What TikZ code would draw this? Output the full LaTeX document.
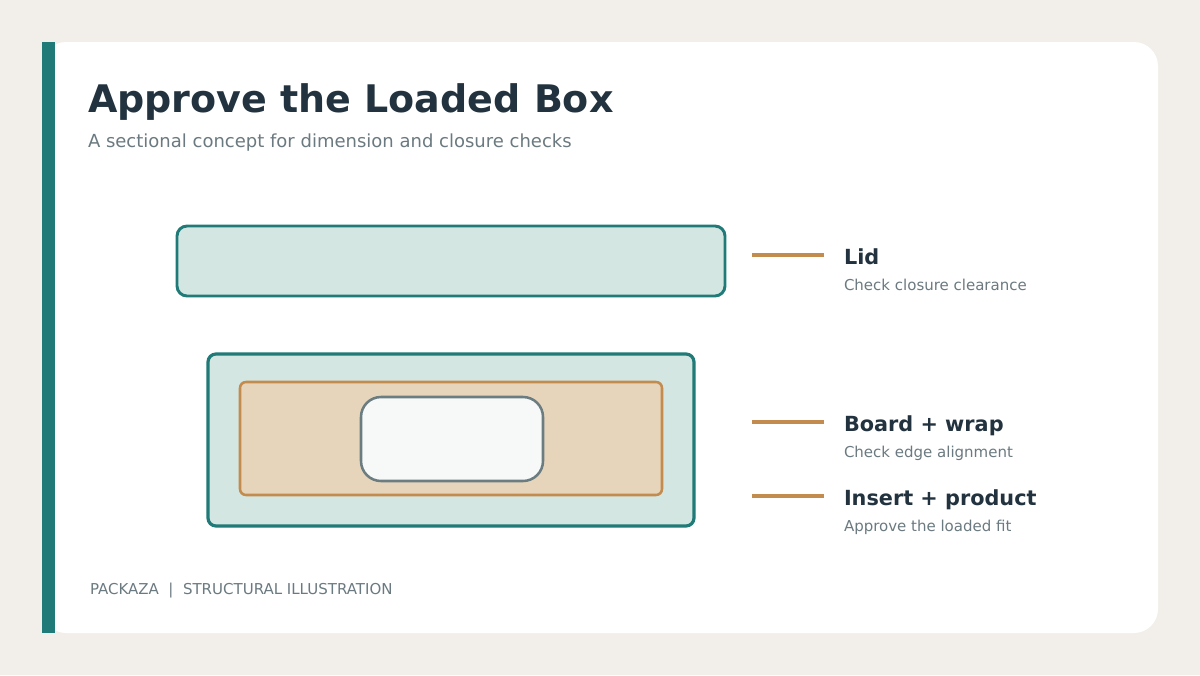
\documentclass[tikz,border=0pt]{standalone}
\usepackage{fontspec}
\setmainfont{DejaVu Sans}
\definecolor{bgc}{HTML}{F2EFEA}
\definecolor{tealc}{HTML}{1F7A78}
\definecolor{lidfill}{HTML}{D4E6E2}
\definecolor{boardfill}{HTML}{E6D5BA}
\definecolor{boardline}{HTML}{C38B4E}
\definecolor{insfill}{HTML}{F6F9F7}
\definecolor{insline}{HTML}{6C7D82}
\definecolor{darktext}{HTML}{22333F}
\definecolor{graytext}{HTML}{6B7A80}
\tikzset{
  txt/.style={anchor=base west, inner sep=0pt, outer sep=0pt},
  labtitle/.style={txt, text=darktext, font=\fontsize{15.6pt}{18pt}\selectfont\bfseries},
  labsub/.style={txt, text=graytext, font=\fontsize{11.25pt}{13pt}\selectfont},
  leader/.style={draw=boardline, line width=2.3pt},
}
\begin{document}
\begin{tikzpicture}[x=0.75pt,y=-0.75pt]
\useasboundingbox (0,0) rectangle (1200,675);
\fill[bgc] (0,0) rectangle (1200,675);
% card
\fill[white, rounded corners=18pt] (42,42) rectangle (1158,633);
\fill[tealc] (42,42) rectangle (55,633);
% title
\node[txt, text=darktext, font=\fontsize{28.5pt}{34pt}\selectfont\bfseries] (title) at (88,112) {Approve the Loaded Box};
\node[txt, text=graytext, font=\fontsize{13.5pt}{16pt}\selectfont] (subtitle) at (88,147) {A sectional concept for dimension and closure checks};
% lid
\draw[draw=tealc, fill=lidfill, line width=2.2pt, rounded corners=7.5pt] (177,226) rectangle (725,296);
% box
\draw[draw=tealc, fill=lidfill, line width=2.4pt, rounded corners=6pt] (208,354) rectangle (694,526);
\draw[draw=boardline, fill=boardfill, line width=1.9pt, rounded corners=4.5pt] (240,382) rectangle (662,495);
\draw[draw=insline, fill=insfill, line width=1.9pt, rounded corners=15pt] (361,397) rectangle (543,481);
% leaders
\coordinate (l1a) at (752,255); \coordinate (l1b) at (824,255);
\coordinate (l2a) at (752,422); \coordinate (l2b) at (824,422);
\coordinate (l3a) at (752,496); \coordinate (l3b) at (824,496);
\draw[leader] (l1a) -- (l1b);
\draw[leader] (l2a) -- (l2b);
\draw[leader] (l3a) -- (l3b);
\node[labtitle] (lid) at (844,264) {Lid};
\node[labsub] (lidsub) at (844,290) {Check closure clearance};
\node[labtitle] (board) at (844,431) {Board + wrap};
\node[labsub] (boardsub) at (844,457) {Check edge alignment};
\node[labtitle] (ins) at (844,505) {Insert + product};
\node[labsub] (inssub) at (844,531) {Approve the loaded fit};
% footer
\node[txt, text=graytext, font=\fontsize{11.25pt}{13pt}\selectfont] (footer) at (90,594) {PACKAZA\ \ |\ \ STRUCTURAL ILLUSTRATION};
\end{tikzpicture}
\end{document}
